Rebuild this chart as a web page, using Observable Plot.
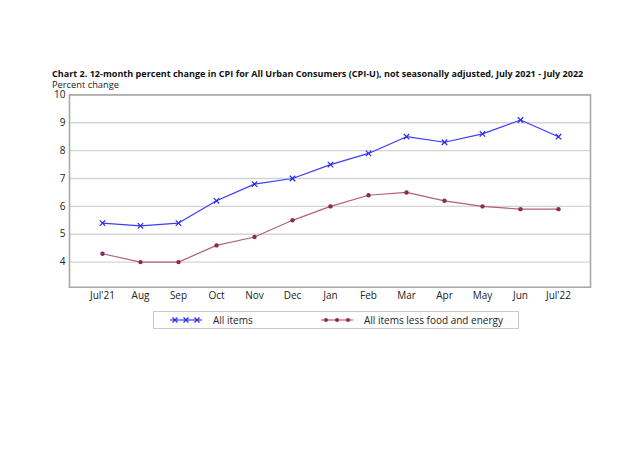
<!DOCTYPE html>
<html><head><meta charset="utf-8">
<script src="https://cdn.jsdelivr.net/npm/d3@7"></script>
<script src="https://cdn.jsdelivr.net/npm/@observablehq/plot@0.6"></script>
<style>
body{margin:0;background:#fff;font-family:"Open Sans",sans-serif;}
#wrap{position:relative;width:640px;height:452px;}
#title{position:absolute;left:52px;top:68px;font-size:9.05px;line-height:11px;font-weight:bold;color:#111;white-space:nowrap;}
#sub{position:absolute;left:52px;top:81.5px;font-size:9.3px;line-height:6px;color:#222;}
#chart{position:absolute;left:0;top:0;}
#legend{position:absolute;left:153px;top:311px;width:364px;height:16px;border:1px solid #c8c8c8;font-size:10px;color:#222;}
</style></head>
<body><div id="wrap">
<div id="chart"></div>
<div id="title">Chart 2. 12-month percent change in CPI for All Urban Consumers (CPI-U), not seasonally adjusted, July 2021 - July 2022</div>
<div id="sub">Percent change</div>
<div id="legend"></div>
</div>
<script>
const months = ["Jul'21","Aug","Sep","Oct","Nov","Dec","Jan","Feb","Mar","Apr","May","Jun","Jul'22"];
const allItems = [5.4,5.3,5.4,6.2,6.8,7.0,7.5,7.9,8.5,8.3,8.6,9.1,8.5];
const core = [4.3,4.0,4.0,4.6,4.9,5.5,6.0,6.4,6.5,6.2,6.0,5.9,5.9];
const yTicks = [4,5,6,7,8,9,10];
const seriesNames = ["All items","All items less food and energy"];
const blue = "#3c3cff", blueMark = "#2a2ae0";
const rose = "#b0607f", roseMark = "#8c2a55";

const dAll = months.map((m,i)=>({m, v: allItems[i]}));
const dCore = months.map((m,i)=>({m, v: core[i]}));

const plot = Plot.plot({
  width: 640, height: 312,
  marginTop: 94.4, marginBottom: 25.3, marginLeft: 69, marginRight: 50,
  style: {fontFamily: '"Open Sans",sans-serif', fontSize: "10px", color: "#222", background: "transparent", overflow: "visible"},
  x: {type: "point", domain: months, padding: 0.7, label: null, tickSize: 0, tickPadding: 5},
  y: {domain: [3.1, 10], ticks: yTicks, tickFormat: d3.format("d"), label: null, tickSize: 0, tickPadding: 4},
  marks: [
    Plot.ruleY(yTicks, {stroke: "#d4d4d4", strokeWidth: 1.3}),
    Plot.frame({stroke: "#a8a8a8", strokeWidth: 1.6}),
    Plot.line(dCore, {x: "m", y: "v", stroke: rose, strokeWidth: 1.2}),
    Plot.dot(dCore, {x: "m", y: "v", r: 2.2, fill: roseMark, stroke: "none"}),
    Plot.line(dAll, {x: "m", y: "v", stroke: blue, strokeWidth: 1.2}),
    Plot.dot(dAll, {x: "m", y: "v", symbol: "times", r: 2.6, stroke: blueMark, strokeWidth: 1.2}),
  ]
});
document.getElementById("chart").appendChild(plot);

// legend
const lg = document.getElementById("legend");
const items = [
  {name: seriesNames[0], x0: 16, tx: 59, line: blue, mark: "x", mc: blueMark},
  {name: seriesNames[1], x0: 167, tx: 210, line: rose, mark: "o", mc: roseMark}
];
let html = '<svg width="364" height="16" style="position:absolute;left:0;top:0;overflow:visible">';
for (const it of items) {
  html += `<line x1="${it.x0}" x2="${it.x0+32}" y1="8" y2="8" stroke="${it.line}" stroke-width="1.2"/>`;
  for (const k of [0,1,2]) {
    const cx = it.x0 + 5 + k*11;
    if (it.mark === "x") html += `<path d="M${cx-2.5},5.5L${cx+2.5},10.5M${cx-2.5},10.5L${cx+2.5},5.5" stroke="${it.mc}" stroke-width="1.2"/>`;
    else html += `<circle cx="${cx}" cy="8" r="2" fill="${it.mc}"/>`;
  }
  html += `<text x="${it.tx}" y="11.5" font-size="10" font-family="Open Sans, sans-serif" fill="#222">${it.name}</text>`;
}
html += '</svg>';
lg.innerHTML = html;
</script>
</body></html>
